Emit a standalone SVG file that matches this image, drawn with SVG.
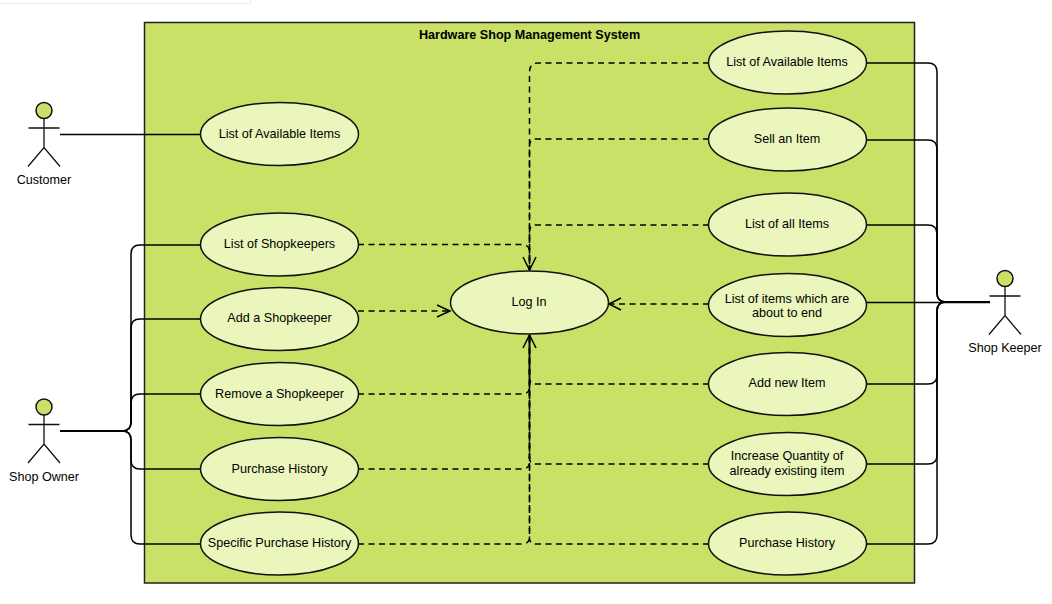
<svg xmlns="http://www.w3.org/2000/svg" width="1052" height="604" viewBox="0 0 1052 604">
<style>
text{font-family:"Liberation Sans",Arial,sans-serif;font-size:12.6px;fill:#000;text-anchor:middle}
.title{font-weight:bold}
.uc{fill:#eaf6bb;stroke:#111;stroke-width:1.5}
.assoc{fill:none;stroke:#000;stroke-width:1.5}
.dep{fill:none;stroke:#000;stroke-width:1.5;stroke-dasharray:6 4.5}
.head{fill:none;stroke:#000;stroke-width:1.5}
.head-circle{fill:#c9e166;stroke:#111;stroke-width:1.5}
.stick-lines{fill:none;stroke:#111;stroke-width:1.3}
</style>
<defs>
<g id="stick"><circle class="head-circle" cx="0" cy="0" r="8"/><path class="stick-lines" d="M0 8V37M-15.500 17.500H15.500M-16 56L0 37L16 56"/></g>
</defs>
<path d="M0 3.500H250.500V0" fill="none" stroke="#e9ebf0" stroke-width="1"/>
<g id="system"><rect x="144.500" y="22.500" width="770" height="560.500" fill="#c9e166" stroke="#222" stroke-width="1.500"/><text class="title" x="529.500" y="39">Hardware Shop Management System</text></g>
<g id="connectors">
<path class="assoc" d="M60 134.500H201"/>
<path class="assoc" d="M60 431H122Q131 431 131 422V254Q131 245 140 245H201"/>
<path class="assoc" d="M60 431H122Q131 431 131 422V328Q131 319 140 319H201"/>
<path class="assoc" d="M60 431H122Q131 431 131 422V403Q131 394 140 394H201"/>
<path class="assoc" d="M60 431H122Q131 431 131 440V460Q131 469 140 469H201"/>
<path class="assoc" d="M60 431H122Q131 431 131 440V535Q131 544 140 544H201"/>
<path class="assoc" d="M866 63H928Q937 63 937 72V293Q937 302 946 302H990"/>
<path class="assoc" d="M866 140H928Q937 140 937 149V293Q937 302 946 302H990"/>
<path class="assoc" d="M866 225H928Q937 225 937 234V293Q937 302 946 302H990"/>
<path class="assoc" d="M866 302.500H990"/>
<path class="assoc" d="M866 384H928Q937 384 937 375V311Q937 302 946 302H990"/>
<path class="assoc" d="M866 464H928Q937 464 937 455V311Q937 302 946 302H990"/>
<path class="assoc" d="M866 544H928Q937 544 937 535V311Q937 302 946 302H990"/>
<path class="dep" d="M709 63H538Q529.500 63 529.500 72V270"/>
<path class="dep" d="M709 139H536Q529.500 139 529.500 146V270"/>
<path class="dep" d="M709 225H536Q529.500 225 529.500 232V270"/>
<path class="dep" d="M358 244.500H522Q529.500 244.500 529.500 252V270"/>
<path class="dep" d="M358 311H449"/>
<path class="dep" d="M709 304H610"/>
<path class="dep" d="M709 384H536Q529.500 384 529.500 378V335"/>
<path class="dep" d="M358 394H522Q529.500 394 529.500 387V335"/>
<path class="dep" d="M709 464H536Q529.500 464 529.500 458V335"/>
<path class="dep" d="M358 469H522Q529.500 469 529.500 462V335"/>
<path class="dep" d="M709 544H536Q529.500 544 529.500 538V335"/>
<path class="dep" d="M358 544H522Q529.500 544 529.500 537V335"/>
<path class="head" d="M523 257L529.500 270L536 257"/>
<path class="head" d="M437 305L450 311L437 317"/>
<path class="head" d="M621 298L609 304L621 310"/>
<path class="head" d="M523 348L529.500 335L536 348"/>
</g>
<g id="actor-customer"><use href="#stick" x="44" y="110.500"/><text x="44" y="184">Customer</text></g>
<g id="actor-owner"><use href="#stick" x="44" y="407"/><text x="44" y="481">Shop Owner</text></g>
<g id="actor-keeper"><use href="#stick" x="1005" y="278.500"/><text x="1005" y="352">Shop Keeper</text></g>
<g id="uc-customer-list"><ellipse class="uc" cx="279.500" cy="134" rx="79" ry="31.500"/><text x="279.500" y="138">List of Available Items</text></g>
<g id="uc-list-shopkeepers"><ellipse class="uc" cx="279.500" cy="244.500" rx="79" ry="31.500"/><text x="279.500" y="248">List of Shopkeepers</text></g>
<g id="uc-add-shopkeeper"><ellipse class="uc" cx="279.500" cy="319" rx="79" ry="31.500"/><text x="279.500" y="322">Add a Shopkeeper</text></g>
<g id="uc-remove-shopkeeper"><ellipse class="uc" cx="279.500" cy="394" rx="79" ry="31.500"/><text x="279.500" y="398">Remove a Shopkeeper</text></g>
<g id="uc-owner-history"><ellipse class="uc" cx="279.500" cy="469" rx="79" ry="31.500"/><text x="279.500" y="473">Purchase History</text></g>
<g id="uc-specific-history"><ellipse class="uc" cx="279.500" cy="543.500" rx="79" ry="31.500"/><text x="279.500" y="547">Specific Purchase History</text></g>
<g id="uc-login"><ellipse class="uc" cx="529.500" cy="302.500" rx="79" ry="31.500"/><text x="529" y="306">Log In</text></g>
<g id="uc-keeper-list"><ellipse class="uc" cx="787.500" cy="62.500" rx="79" ry="31.500"/><text x="787" y="66">List of Available Items</text></g>
<g id="uc-sell"><ellipse class="uc" cx="787.500" cy="139.500" rx="79" ry="31.500"/><text x="787" y="143">Sell an Item</text></g>
<g id="uc-list-all"><ellipse class="uc" cx="787.500" cy="224.500" rx="79" ry="31.500"/><text x="787" y="228">List of all Items</text></g>
<g id="uc-about-to-end"><ellipse class="uc" cx="787.500" cy="305" rx="79" ry="31.500"/><text x="787" y="303">List of items which are</text><text x="787" y="317">about to end</text></g>
<g id="uc-add-item"><ellipse class="uc" cx="787.500" cy="384" rx="79" ry="31.500"/><text x="787" y="387">Add new Item</text></g>
<g id="uc-increase"><ellipse class="uc" cx="787.500" cy="464" rx="79" ry="31.500"/><text x="787" y="460">Increase Quantity of</text><text x="787" y="475">already existing item</text></g>
<g id="uc-keeper-history"><ellipse class="uc" cx="787.500" cy="543.500" rx="79" ry="31.500"/><text x="787" y="547">Purchase History</text></g>
</svg>
